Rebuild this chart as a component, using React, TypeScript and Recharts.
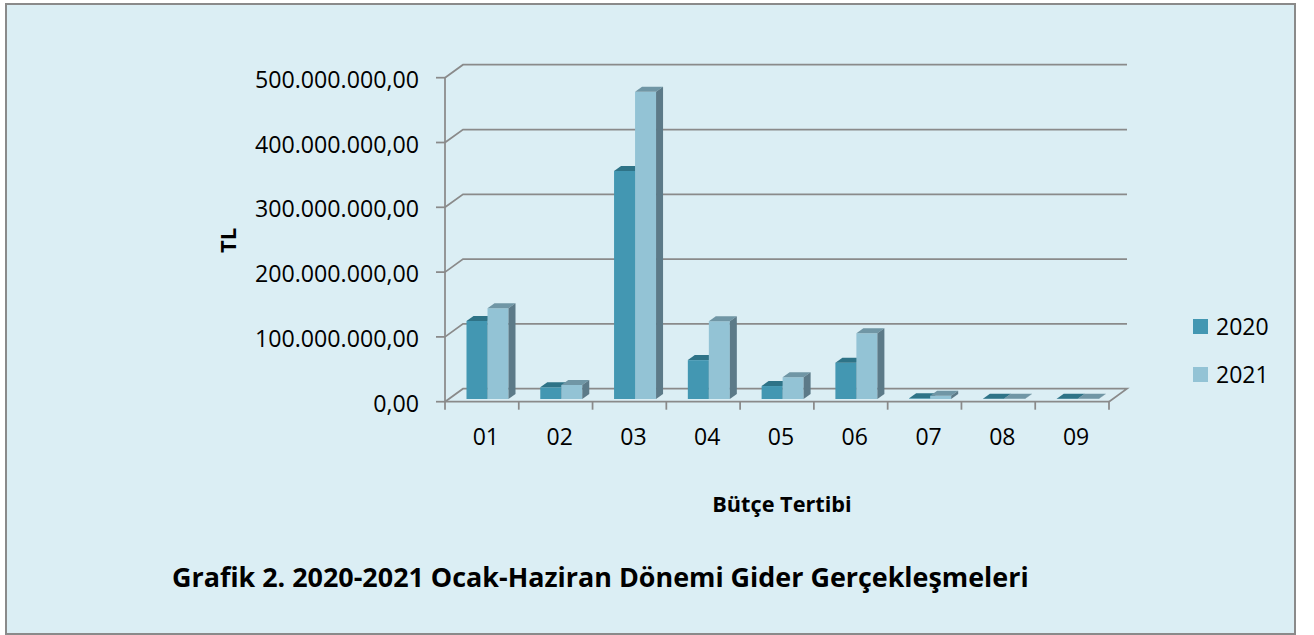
import React from "react";
import { BarChart, Bar, XAxis, YAxis, CartesianGrid, Legend } from "recharts";

// Bütçe tertibi kodları ve harcamalar (TL)
const categories = ["01", "02", "03", "04", "05", "06", "07", "08", "09"];
const values2020 = [120400000, 18000000, 352000000, 60000000, 20000000, 56000000, 1000000, 300000, 400000];
const values2021 = [140000000, 21600000, 474000000, 120000000, 33500000, 101400000, 5000000, 300000, 300000];
const yTicks = [0, 100000000, 200000000, 300000000, 400000000, 500000000];

const series = [
  { key: "y2020", name: "2020", front: "#4397B2", top: "#2E7387", side: "#2B6A7D" },
  { key: "y2021", name: "2021", front: "#93C3D5", top: "#7096A5", side: "#5C7A88" },
];

const data = categories.map((name, i) => ({ name, y2020: values2020[i], y2021: values2021[i] }));

const W = 1314;
const H = 635;
const MARGIN = { top: 77.7, right: 205, bottom: 203.3, left: 255 };
const X_AXIS_H = 30;
const FLOOR_Y = H - MARGIN.bottom - X_AXIS_H;

const GRID = "#8A8A8A";
const FONT = "'Open Sans', sans-serif";

// depth of the back wall and of each bar
const WALL_DX = 18;
const WALL_DY = 13;
const BAR_DX = 7;
const BAR_DY = 5;
const SHIFT_X = 5.5;
const SHIFT_Y = 2.7;

const fmtTL = (v: number) =>
  Math.round(v).toString().replace(/\B(?=(\d{3})+(?!\d))/g, ".") + ",00";

const Bar3D = (props: any) => {
  const { x, y, width, height, front, top, side } = props;
  const fx = x + SHIFT_X;
  const fy = y - SHIFT_Y;
  const h = Math.max(height, 0);
  const b = fy + h;
  return (
    <g>
      <rect x={fx} y={fy} width={width} height={h} fill={front} />
      <polygon
        points={`${fx},${fy} ${fx + BAR_DX},${fy - BAR_DY} ${fx + width + BAR_DX},${fy - BAR_DY} ${fx + width},${fy}`}
        fill={top}
      />
      <polygon
        points={`${fx + width},${fy} ${fx + width + BAR_DX},${fy - BAR_DY} ${fx + width + BAR_DX},${b - BAR_DY} ${fx + width},${b}`}
        fill={side}
      />
    </g>
  );
};

const gridLine = (props: any) => {
  const { x1, x2, y1 } = props;
  const floor = Math.abs(y1 - FLOOR_Y) < 1;
  const d =
    `M${x1},${y1} L${x1 + WALL_DX},${y1 - WALL_DY} L${x2 + WALL_DX},${y1 - WALL_DY}` +
    (floor ? ` L${x2},${y1}` : "");
  return <path key={props.key ?? `g-${y1}`} d={d} fill="none" stroke={GRID} strokeWidth={1.75} />;
};

const XTick = (props: any) => {
  const { x, y, payload, index } = props;
  const half = payload && payload.offset ? payload.offset : 36.9;
  return (
    <g>
      <line x1={x - half} y1={y} x2={x - half} y2={y + 8} stroke={GRID} strokeWidth={1.75} />
      {index === categories.length - 1 && (
        <line x1={x + half} y1={y} x2={x + half} y2={y + 8} stroke={GRID} strokeWidth={1.75} />
      )}
      <text x={x + 4} y={y + 43} textAnchor="middle" fontFamily={FONT} fontSize={23} fill="#000">
        {payload.value}
      </text>
    </g>
  );
};

const YTick = (props: any) => {
  const { x, y, payload } = props;
  return (
    <text x={x} y={y + 10} textAnchor="end" fontFamily={FONT} fontSize={23.2} fill="#000">
      {fmtTL(payload.value)}
    </text>
  );
};

const LegendBox = () => (
  <div style={{ fontFamily: FONT, fontSize: 23, color: "#000" }}>
    {series.map((s) => (
      <div key={s.key} style={{ display: "flex", alignItems: "center", height: 48 }}>
        <span style={{ display: "inline-block", width: 15, height: 15, background: s.front, marginRight: 8 }} />
        {s.name}
      </div>
    ))}
  </div>
);

export default function App() {
  return (
    <div style={{ position: "absolute", left: 0, top: 0, width: W, height: H, background: "#fff" }}>
      <div
        style={{
          position: "absolute",
          left: 5,
          top: 3,
          width: 1291,
          height: 632,
          boxSizing: "border-box",
          border: `2px solid ${GRID}`,
          background: "#DBEEF4",
        }}
      />
      <div style={{ position: "absolute", left: 0, top: 0 }}>
        <BarChart width={W} height={H} data={data} margin={MARGIN} barGap={0} barSize={21}>
          <CartesianGrid vertical={false} horizontal={gridLine} />
          <XAxis
            dataKey="name"
            height={X_AXIS_H}
            interval={0}
            tickSize={0}
            tickMargin={0}
            tickLine={false}
            axisLine={{ stroke: GRID, strokeWidth: 1.75 }}
            tick={<XTick />}
          />
          <YAxis
            width={190}
            domain={[0, 500000000]}
            ticks={yTicks}
            tickSize={9}
            tickMargin={17}
            tickLine={{ stroke: GRID, strokeWidth: 1.75 }}
            axisLine={{ stroke: GRID, strokeWidth: 1.75 }}
            tick={<YTick />}
          />
          <Legend
            layout="vertical"
            align="center"
            verticalAlign="middle"
            content={<LegendBox />}
            wrapperStyle={{ left: 1193, top: 302, width: 100, right: "auto", bottom: "auto" }}
          />
          {series.map((s) => (
            <Bar
              key={s.key}
              dataKey={s.key}
              name={s.name}
              fill={s.front}
              isAnimationActive={false}
              shape={(p: any) => <Bar3D {...p} front={s.front} top={s.top} side={s.side} />}
            />
          ))}
        </BarChart>
      </div>
      <svg
        width={W}
        height={H}
        style={{ position: "absolute", left: 0, top: 0, pointerEvents: "none" }}
      >
        <text
          transform="translate(235.5,240.5) rotate(-90)"
          textAnchor="middle"
          fontFamily={FONT}
          fontWeight="bold"
          fontSize={22}
          fill="#000"
        >
          TL
        </text>
        <text
          x={782}
          y={512}
          textAnchor="middle"
          fontFamily={FONT}
          fontWeight="bold"
          fontSize={21.7}
          fill="#000"
        >
          Bütçe Tertibi
        </text>
        <text x={172} y={587} fontFamily={FONT} fontWeight="bold" fontSize={26.9} fill="#000">
          Grafik 2. 2020-2021 Ocak-Haziran Dönemi Gider Gerçekleşmeleri
        </text>
      </svg>
    </div>
  );
}
